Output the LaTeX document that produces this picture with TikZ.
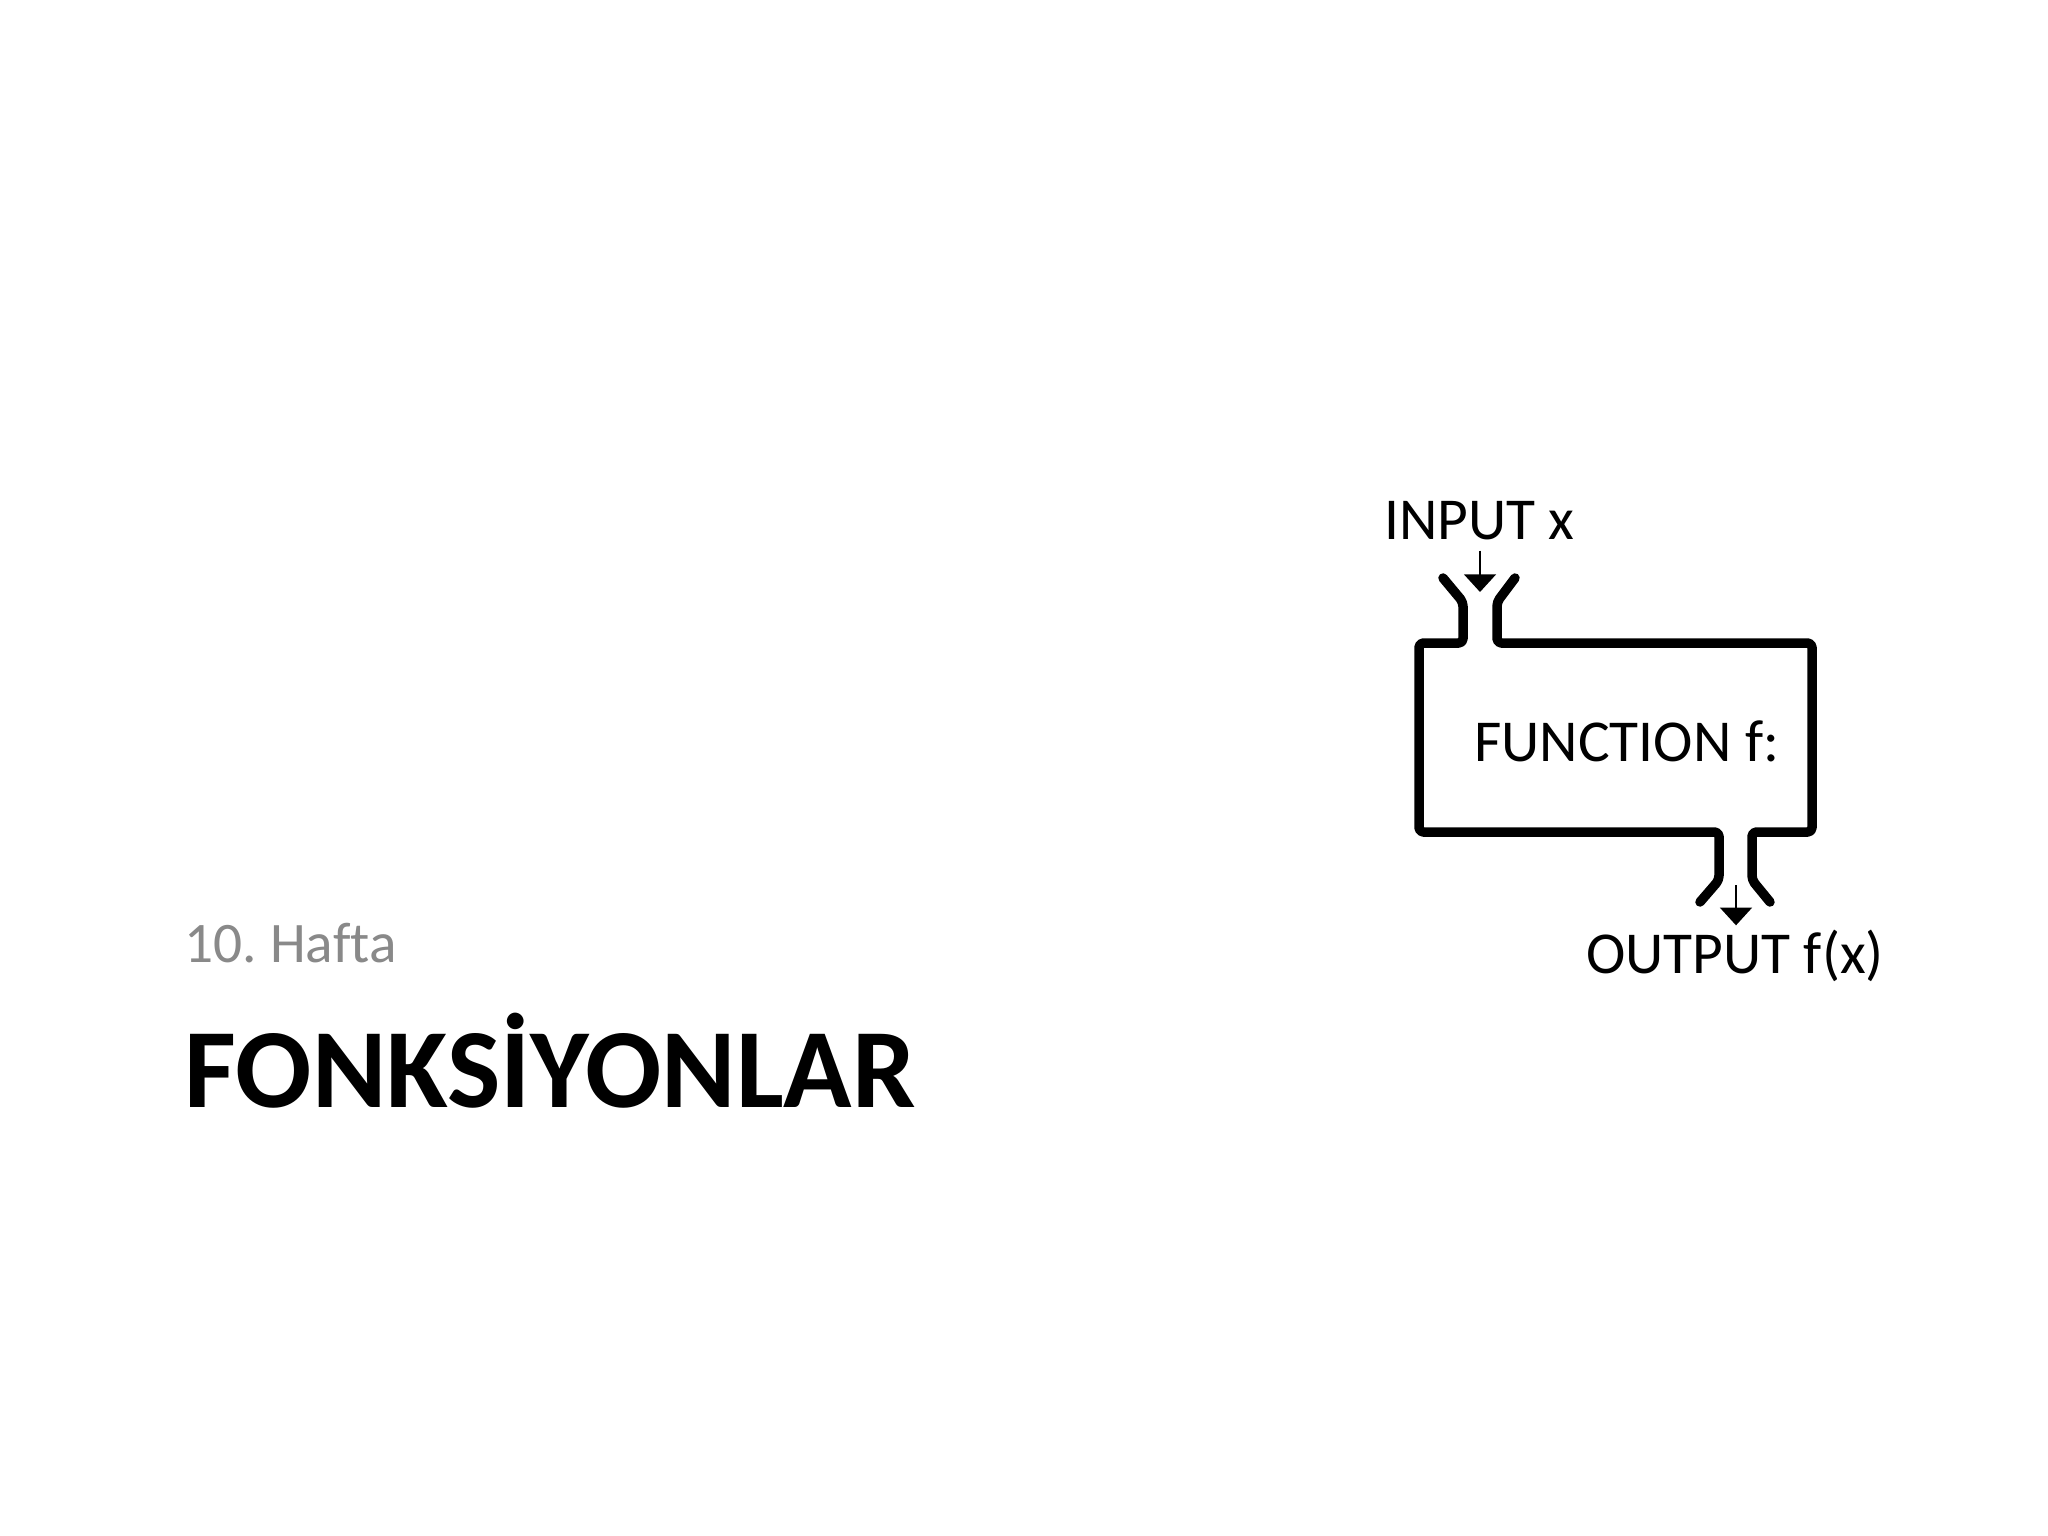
\documentclass[tikz,border=0pt]{standalone}
\usepackage{fontspec}
\setmainfont{Carlito}[Ligatures=NoCommon]
\usetikzlibrary{arrows.meta}
\definecolor{subgray}{RGB}{137,137,137}
\frenchspacing

\begin{document}
\begin{tikzpicture}[x=0.01cm, y=-0.01cm,
    machine/.style={line width=2.7pt, line cap=round, line join=round, rounded corners=1.2pt},
    label/.style={anchor=base west, inner sep=1pt, font=\fontsize{16.9}{20}\selectfont},
    feed/.style={line width=0.6pt, -{Triangle[width=9pt, length=5pt]}}]
  \useasboundingbox[fill=white] (0,0) rectangle (2048,1536);
  % Title
  \node[anchor=base west, inner sep=0pt, text=subgray, font=\fontsize{16.3}{20}\selectfont]
    (week) at (184,962) {10. Hafta};
  \node[anchor=base west, inner sep=0pt, font=\fontsize{32.1}{36}\selectfont\bfseries]
    (title) at (184,1107) {FONKSİYONLAR};
  % Function machine, left and right walls
  \draw[machine] (1443,578) -- (1463,602) -- (1463,643) -- (1419,643) -- (1419,832)
    -- (1719,832) -- (1719,880) -- (1700,902);
  \draw[machine] (1515,578) -- (1497,602) -- (1497,643) -- (1812,643) -- (1812,832)
    -- (1752,832) -- (1752,880) -- (1770,902);
  % Labels
  \node[label] (in) at (1380,539) {INPUT x};
  \node[label] (fn) at (1470,761) {FUNCTION f:};
  \node[label] (out) at (1582,973) {OUTPUT f(x)};
  % Arrows in and out
  \coordinate (inTip) at (1480,592);
  \coordinate (outTop) at (1736,885);
  \draw[feed, shorten <=2pt] (in.south -| inTip) -- (inTip);
  \draw[feed] (outTop) -- (outTop |- out.north);
\end{tikzpicture}
\end{document}
